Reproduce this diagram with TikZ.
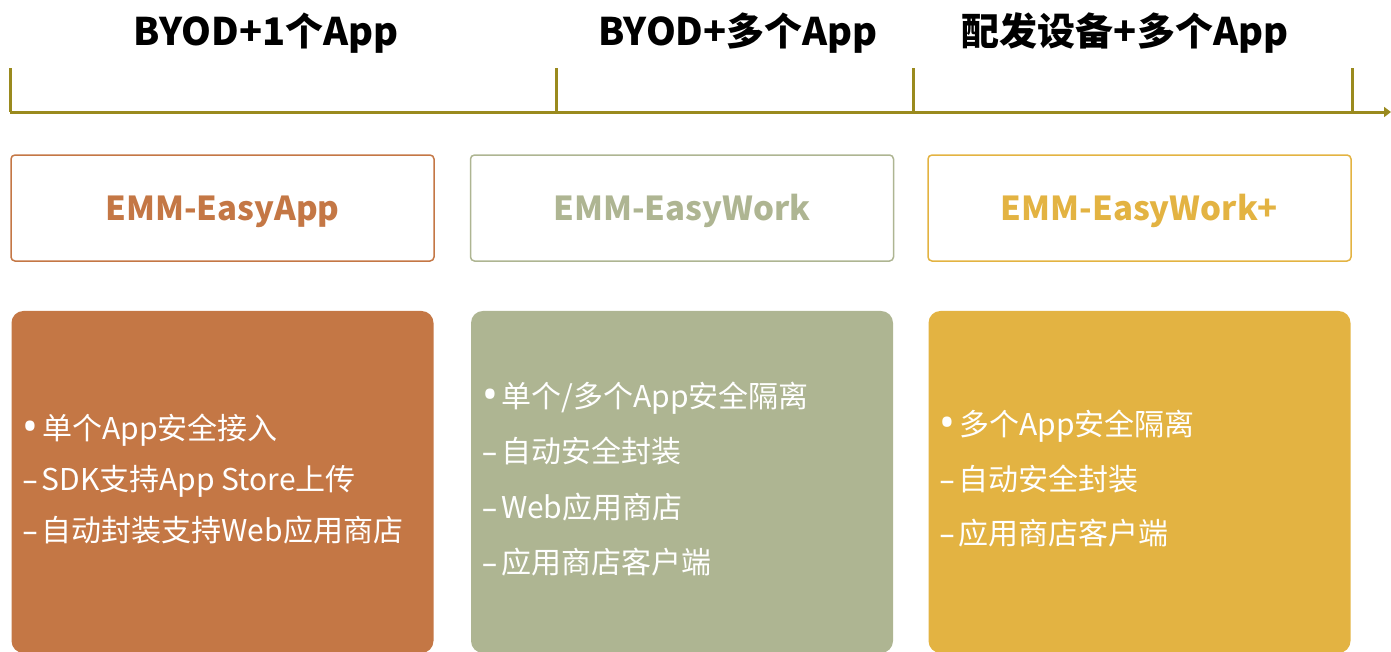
\documentclass[tikz,border=0pt]{standalone}
\usepackage{fontspec}
\setmainfont{Noto Sans CJK SC}
\newfontfamily\bulletfont{Noto Sans}
\usetikzlibrary{positioning,arrows.meta}

\definecolor{axisc}{RGB}{154,138,30}
\definecolor{rustc}{RGB}{196,119,69}
\definecolor{sagec}{RGB}{174,181,146}
\definecolor{goldc}{RGB}{227,179,66}

\newcommand{\itembullet}{{\bulletfont\fontsize{42}{42}\selectfont\raisebox{-2pt}{•}}\hspace{4pt}}
\newcommand{\itemdash}{{\bulletfont –}\hspace{4pt}}

\tikzstyle{phase} = [font=\fontsize{38}{44}\selectfont\bfseries, text=black]
\tikzstyle{product} = [rectangle, draw, line width=1.5pt, rounded corners=4pt, minimum width=423pt, minimum height=106pt, font=\fontsize{33}{38}\selectfont\bfseries]
\tikzstyle{feature} = [rectangle, rounded corners=12pt, minimum width=422pt, minimum height=342pt]
\tikzstyle{items} = [text=white, align=left, anchor=west, inner sep=0pt, yshift=3pt]
\tikzstyle{axisline} = [draw=axisc, line width=3pt]

\begin{document}
\begin{tikzpicture}[x=1pt, y=-1pt, node distance = 49pt]
\useasboundingbox (0,0) rectangle (1391,651);

% time line
\coordinate (t0) at (10,68);
\coordinate (t1) at (556,68);
\coordinate (t2) at (913,68);
\coordinate (t3) at (1352,68);
\coordinate (tend) at (1391,112);
\draw [axisline, -{Triangle[length=7pt,width=10pt]}] (t0 |- tend) -- (tend);
\foreach \t in {t0,t1,t2,t3}
  \draw [axisline] (\t) -- (\t |- tend);

\node [phase] (Phase1) at (266,33) {BYOD+1个App};
\node [phase] (Phase2) at (738,33) {BYOD+多个App};
\node [phase] (Phase3) at (1125,33) {配发设备+多个App};

% products
\node [product, draw=rustc, text=rustc] (EasyApp) at (222.5,208) {\raisebox{-12pt}[0pt][0pt]{EMM-EasyApp}};
\node [product, draw=sagec, text=sagec] (EasyWork) at (682,208) {\raisebox{-12pt}[0pt][0pt]{EMM-EasyWork}};
\node [product, draw=goldc, text=goldc] (EasyWorkP) at (1139.5,208) {\raisebox{-12pt}[0pt][0pt]{EMM-EasyWork+}};

\node [feature, fill=rustc] (AppBox) [below=of EasyApp] {};
\node [feature, fill=sagec] (WorkBox) [below=of EasyWork] {};
\node [feature, fill=goldc] (WorkPBox) [below=of EasyWorkP] {};

\node [items, font=\fontsize{30}{51}\selectfont] (AppList) at ([xshift=11pt]AppBox.west) {\itembullet 单个App安全接入\\\itemdash SDK支持App Store上传\\\itemdash 自动封装支持Web应用商店};
\node [items, font=\fontsize{30}{55.5}\selectfont] (WorkList) at ([xshift=11pt]WorkBox.west) {\itembullet 单个/多个App安全隔离\\\itemdash 自动安全封装\\\itemdash Web应用商店\\\itemdash 应用商店客户端};
\node [items, font=\fontsize{30}{54.5}\selectfont] (WorkPList) at ([xshift=11pt]WorkPBox.west) {\itembullet 多个App安全隔离\\\itemdash 自动安全封装\\\itemdash 应用商店客户端};
\end{tikzpicture}
\end{document}
